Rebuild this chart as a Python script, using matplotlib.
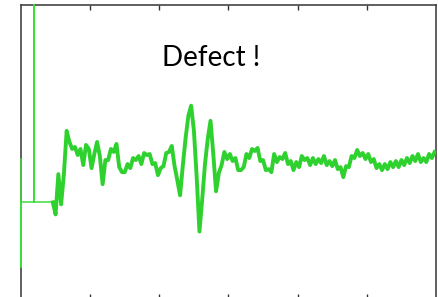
import matplotlib
matplotlib.use("Agg")
import matplotlib.pyplot as plt
import numpy as np

# ---- data -------------------------------------------------------------
# trigger / excitation part at the start of the record
t_pulse = [0.0, 0.0, 0.0, 1.9, 1.9, 1.9, 4.6]
a_pulse = [4.3, -6.4, 0.0, 0.0, 19.6, 0.0, 0.0]

# received echo signal, sampled every 0.4 from t = 4.6
t_start = 4.6
dt = 0.4
a_echo = [
    0.0, -1.2, 2.8, -0.2, 2.8, 7.1, 6.0, 5.3, 5.5, 4.7,
    5.3, 3.7, 5.7, 5.3, 3.4, 4.8, 6.0, 4.6, 1.8, 4.2,
    4.2, 5.3, 5.0, 5.8, 3.5, 3.0, 3.0, 3.8, 3.4, 4.4,
    4.2, 4.6, 3.8, 4.9, 4.7, 4.8, 3.8, 3.9, 2.7, 3.4,
    3.6, 4.9, 5.0, 5.6, 3.6, 2.2, 0.7, 3.7, 6.4, 8.6,
    9.6, 7.1, 2.5, -2.9, 0.3, 3.8, 6.3, 8.1, 4.8, 1.1,
    2.9, 3.7, 5.0, 4.3, 4.8, 4.1, 4.4, 3.2, 3.2, 3.5,
    4.8, 4.4, 5.3, 5.1, 5.4, 4.1, 4.2, 3.2, 3.3, 3.0,
    4.8, 4.0, 4.5, 4.3, 4.9, 3.8, 4.1, 3.2, 4.0, 3.5,
    4.6, 4.2, 4.4, 3.7, 4.4, 3.8, 4.3, 3.9, 4.6, 3.7,
    4.1, 3.6, 4.2, 3.3, 3.5, 2.5, 3.6, 3.5, 4.6, 4.4,
    5.2, 4.6, 4.9, 4.3, 4.8, 4.0, 4.3, 3.4, 3.8, 3.2,
    3.8, 3.3, 4.0, 3.5, 4.1, 3.5, 4.2, 3.7, 4.4, 3.9,
    4.6, 4.1, 4.8, 4.0, 4.4, 4.0, 4.8, 4.4, 5.0,
]
t_echo = t_start + dt * np.arange(len(a_echo))

x_ticks = [10, 20, 30, 40, 50]
label = "Defect !"

# ---- figure -----------------------------------------------------------
fig = plt.figure(figsize=(4.39, 2.97), dpi=100)
ax = fig.add_axes([21/439, -2/297, 415/439, 294/297])

green = "#2fd12f"
ax.plot(t_pulse, a_pulse, color="#3ddc3d", lw=1.1, zorder=3, clip_on=False)
ax.plot(t_echo, a_echo, color=green, lw=2.8, zorder=3,
        solid_joinstyle="round")

ax.set_xlim(0, 60)
ax.set_ylim(-9.6, 19.6)
ax.set_xticks(x_ticks)
ax.set_yticks([])
ax.tick_params(axis="x", direction="in", top=True, bottom=True,
               length=3.5, width=1, color="#333333",
               labelbottom=False, labeltop=False)
for s in ax.spines.values():
    s.set_color("#444444")
    s.set_linewidth(1.2)

fig.text(211/439, 1 - 66/297, label, ha="center", va="baseline",
         fontsize=20, family=["Lato", "DejaVu Sans"], color="black")

fig.savefig("out.png", dpi=100)
